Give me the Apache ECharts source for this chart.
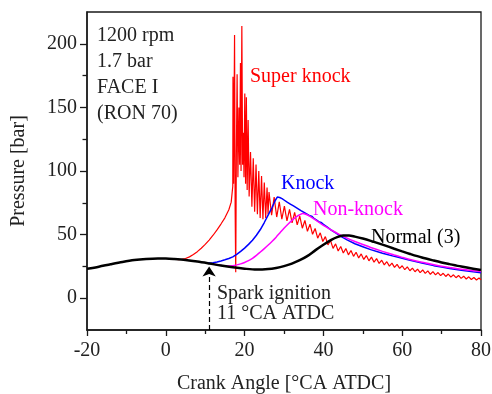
<!DOCTYPE html>
<html>
<head>
<meta charset="utf-8">
<script src="https://cdn.jsdelivr.net/npm/echarts@6/dist/echarts.min.js"></script>
<style>html,body{margin:0;padding:0;background:#fff;}#c{width:492px;height:394px;}</style>
</head>
<body>
<div id="c"></div>
<script>
// ---- data ----
const xTicks = [-20, 0, 20, 40, 60, 80];
const yTickLabels = [0, 50, 100, 150, 200];
const yMinorTicks = [25, 75, 125, 175];

const normalCA = [-20,-17,-14,-11,-8,-5,-2,0,2,5,8,11,14,17,20,23,26,28,30,32,34,36,38,40,42,43.5,45,46.5,48,50,52,55,58,60,62,65,68,70,72,75,78,80];
const normalP  = [23.1,24.8,26.7,28.5,30,30.9,31.3,31.2,30.8,30,28.8,27.3,25.7,24.3,23.2,22.5,22.9,23.8,25.2,27.2,29.9,33.3,37.8,42,45.8,48,49.2,49.3,48.4,46.9,45.1,42.1,38.9,36.8,34.8,32,29.6,28.1,26.8,24.9,23.2,22.2];

const nonKnockCA = [12,13,14,15,16,17,18,19,20,21,22,23,24,25,26,27,28,29,30,31,32,33,34,34.8,35.5,36.5,38,40,42,44,46,48,50,52,55,58,60,62,65,68,70,72,75,78,80];
const nonKnockP  = [26.8,26.3,25.8,25.3,25.3,25.6,26.2,27,28.1,29.5,31.4,33.7,36.3,39,41.8,44.8,48,51.5,55,58.2,61.2,63.7,65.6,66.5,66,64.5,61.5,57.2,53.6,50.2,47.2,44.6,42.2,39.9,36.8,33.9,32.1,30.4,28.2,26.3,25.1,24.1,22.7,21.6,21];

const knockCA = [10,11,12,13,14,15,16,17,18,19,20,21,22,23,24,25,26,27,27.8,28.3,28.6,28.9,29.2,29.5,29.8,30.1,30.4,30.8,31.2,31.6,32,32.4,32.8,33.3,33.8,34.3,34.8,35.3,35.8,36.4,37,37.6,38.2,38.8,39.4,40,41,42,43,44,45,46,48,50,52,55,58,60,62,65,68,70,72,75,78,80];
const knockP  = [27.8,27.6,27.8,28.5,29.3,30.2,31.2,32.5,34.5,36.8,39.4,42.3,45.5,49.5,54,59.5,65.5,71.5,77,79.5,80.5,79.2,80.2,78.3,79,77,77.6,75.5,76,74,74.4,72.5,72.8,70.8,71,68.8,68.9,67,66.9,65,64.5,62.8,61.6,60.2,59.6,58,55.8,53.6,51.5,49.5,47.6,45.8,42.8,40.5,38.2,35.4,32.9,31.4,29.8,27.6,25.6,24.5,23.4,22,20.8,20.1];

const superKnockCA = [3,4,5,6,7,8,9,10,11,12,13,14,15,16,16.6,17.0,
17.05,17.2,17.45,17.6,17.75,17.9,18.1,18.3,18.55,18.75,18.95,19.1,19.3,19.5,19.7,19.85,20.05,20.25,20.45,20.65,20.9,21.15,21.5,21.85,22.2,22.55,22.9,23.25,23.6,23.95,24.3,24.65,25.0,25.35,25.7,25.95,
26.2,26.85,27.5,28.15,28.8,29.45,30.1,30.75,31.4,32.05,32.7,33.35,34.0,34.65,35.3,35.95,36.6,37.25,37.9,38.55,39.2,39.85,40.5,41.15,41.8,42.45,43.1,43.75,44.4,45.05,45.7,46.35,47.0,47.65,48.3,48.95,49.6,50.25,50.9,51.55,52.2,52.85,53.5,54.15,54.8,55.45,56.1,56.75,57.4,58.05,58.7,59.35,60.0,60.65,61.3,61.95,62.6,63.25,63.9,64.55,65.2,65.85,66.5,67.15,67.8,68.45,69.1,69.75,70.4,71.05,71.7,72.35,73.0,73.65,74.3,74.95,75.6,76.25,76.9,77.55,78.2,78.85,79.5,80];
const superKnockP = [30.4,30.5,31.2,32.5,34.3,36.6,39.3,42.3,45.7,49.5,53.7,58.3,63.2,69.5,75.5,88,
174,90,207,70,20.5,110,176,95,150,105,185,100,214,105,130,95,161,90,158,85,140,80,115,72,110,68,105,66,100,63,96,62,91,63,87,66,
83.4,65.2,79.5,63.8,75.8,62.1,72.4,60.7,69.8,59.3,67.4,57.6,64.5,55.0,61.1,52.6,58.2,50.2,54.8,47.2,51.4,44.6,48.4,41.9,45.4,39.2,42.7,37.1,40.7,35.5,39.0,34.1,37.5,32.9,36.1,31.7,34.8,30.5,33.5,29.4,32.3,28.3,31.1,27.3,29.9,26.2,28.7,25.2,27.6,24.2,26.6,23.4,25.5,22.4,24.6,21.6,23.7,20.8,22.9,20.1,22.2,19.5,21.5,18.8,20.9,18.3,20.2,17.7,19.6,17.1,19.0,16.6,18.4,16.1,17.9,15.6,17.3,15.1,16.8,14.7,16.3,14.3,15.9,14.5];

const sparkCA = 11;
const sparkArrowTop = 25;

const conditionLines = ['1200 rpm', '1.7 bar', 'FACE I', '(RON 70)'];

// ---- build ----
function zip(xs, ys) { const n = Math.min(xs.length, ys.length); const o = []; for (let i = 0; i < n; i++) o.push([xs[i], ys[i]]); return o; }

const FONT = '"Liberation Serif", "Times New Roman", serif';
const FS = 20;
const axisColor = '#1a1a1a';

const chart = echarts.init(document.getElementById('c'), null, { renderer: 'canvas' });

const condGraphics = conditionLines.map((t, i) => ({
  type: 'text', left: 97, top: 26 + i * 26,
  style: { text: t, font: FS + 'px ' + FONT, fill: '#222' }
}));

function label(t, x, y, color) {
  return { type: 'text', left: x, top: y, style: { text: t, font: FS + 'px ' + FONT, fill: color } };
}

chart.setOption({
  animation: false,
  grid: { left: 87, right: 11, top: 12, bottom: 64, containLabel: false, outerBoundsMode: 'none', show: true, borderColor: axisColor, borderWidth: 1.3, backgroundColor: 'transparent' },
  xAxis: {
    type: 'value', min: -20, max: 80, interval: 20,
    name: 'Crank Angle [°CA ATDC]', nameLocation: 'middle', nameGap: 44,
    nameTextStyle: { fontFamily: FONT, fontSize: FS, color: '#222' },
    axisLine: { show: true, onZero: false, lineStyle: { color: axisColor, width: 1.5 } },
    axisTick: { show: true, inside: false, length: 6, lineStyle: { color: axisColor, width: 1.3 } },
    minorTick: { show: true, splitNumber: 2, length: 4, lineStyle: { color: axisColor, width: 1.3 } },
    axisLabel: { fontFamily: FONT, fontSize: FS, color: '#222', margin: 11 },
    splitLine: { show: false }
  },
  yAxis: [{
    type: 'value', min: -25, max: 225,
    name: 'Pressure [bar]', nameLocation: 'middle', nameGap: 58,
    nameTextStyle: { fontFamily: FONT, fontSize: FS, color: '#222' },
    axisLine: { show: true, onZero: false, lineStyle: { color: axisColor, width: 1.5 } },
    axisTick: { show: true, inside: false, length: 7, customValues: yTickLabels, lineStyle: { color: axisColor, width: 1.3 } },
    axisLabel: { fontFamily: FONT, fontSize: FS, color: '#222', margin: 10, customValues: yTickLabels },
    splitLine: { show: false }
  }, {
    type: 'value', min: -25, max: 225, position: 'left',
    axisLine: { show: false, onZero: false },
    axisTick: { show: true, inside: false, length: 4.5, customValues: yMinorTicks, lineStyle: { color: axisColor, width: 1.3 } },
    axisLabel: { show: false },
    splitLine: { show: false }
  }],
  series: [
    { type: 'line', name: 'Super knock', data: zip(superKnockCA, superKnockP), showSymbol: false, lineStyle: { color: '#ff0000', width: 1.2 }, itemStyle: { color: '#ff0000' }, z: 2 },
    { type: 'line', name: 'Knock', data: zip(knockCA, knockP), showSymbol: false, lineStyle: { color: '#0000ff', width: 1.5 }, itemStyle: { color: '#0000ff' }, z: 3 },
    { type: 'line', name: 'Non-knock', data: zip(nonKnockCA, nonKnockP), showSymbol: false, smooth: 0.3, lineStyle: { color: '#ff00ff', width: 1.5 }, itemStyle: { color: '#ff00ff' }, z: 4 },
    { type: 'line', name: 'Normal (3)', data: zip(normalCA, normalP), showSymbol: false, smooth: 0.3, lineStyle: { color: '#000', width: 2.5 }, itemStyle: { color: '#000' }, z: 5,
      markLine: {
        silent: true, animation: false,
        symbol: ['none', 'arrow'], symbolSize: 10,
        label: { show: false },
        emphasis: { disabled: true },
        lineStyle: { color: '#000', width: 1.2, type: [5, 3] },
        data: [[{ coord: [sparkCA, -25] }, { coord: [sparkCA, sparkArrowTop] }]]
      }
    }
  ],
  graphic: condGraphics.concat([
    label('Super knock', 250, 67, '#ff0000'),
    label('Knock', 281, 174, '#0000ff'),
    label('Non-knock', 313, 200, '#ff00ff'),
    label('Normal (3)', 371, 228, '#000'),
    label('Spark ignition', 217, 284, '#222'),
    label('11 °CA ATDC', 217, 304, '#222')
  ])
});
</script>
</body>
</html>
